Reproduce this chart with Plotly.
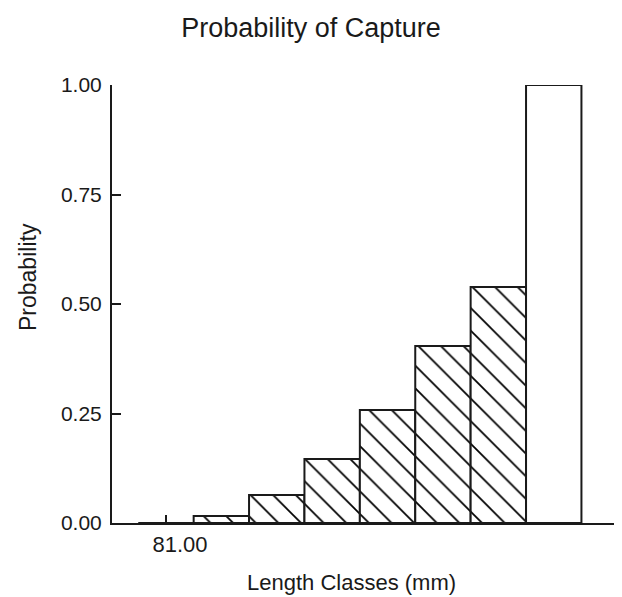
import plotly.graph_objects as go

# Data
length_classes = [81, 86, 91, 96, 101, 106, 111, 116]
probability = [0.0, 0.016, 0.064, 0.146, 0.258, 0.404, 0.539, 1.0]
hatch = ["", "\\", "\\", "\\", "\\", "\\", "\\", ""]
x_tick_vals = [81]
x_tick_text = ["81.00"]
y_tick_vals = [0, 0.25, 0.5, 0.75, 1.0]
y_tick_text = ["0.00", "0.25", "0.50", "0.75", "1.00"]

FONT = "Liberation Sans, Arial, sans-serif"
INK = "#1a1a1a"
OFF = 8  # default page body margin

W, H = 622 - OFF, 597 - OFF
L, R, T, B = 112, 618, 85, 523  # target plot box in screenshot pixels

fig = go.Figure()
fig.add_trace(go.Bar(
    x=length_classes,
    y=probability,
    width=5,
    marker=dict(
        color="white",
        line=dict(color=INK, width=2),
        pattern=dict(shape=hatch, fgcolor="black", fgopacity=1, bgcolor="white",
                     size=16, solidity=0.11),
    ),
    showlegend=False,
))

pw, ph = R - L, B - T

fig.update_layout(
    width=W, height=H,
    margin=dict(l=L - OFF, r=W - (R - OFF), t=T - OFF, b=H - (B - OFF), pad=0),
    paper_bgcolor="white", plot_bgcolor="white",
    font=dict(family=FONT, color=INK),
    title=dict(text="Probability of Capture", x=(311 - OFF) / W, xref="container", xanchor="center",
               y=1 - (28 - OFF) / H, yref="container", yanchor="middle",
               font=dict(size=27, family=FONT, color=INK)),
    xaxis=dict(range=[76.13, 121.8], showline=True, linecolor=INK, linewidth=2,
               showgrid=False, zeroline=False, ticks="inside", ticklen=8, tickwidth=2,
               tickcolor=INK, tickvals=x_tick_vals, ticktext=x_tick_text,
               tickfont=dict(size=22, family=FONT, color=INK),
               ticklabelstandoff=1, ticklabelshift=14),
    yaxis=dict(range=[0, 1], showline=True, linecolor=INK, linewidth=2,
               showgrid=False, zeroline=False, ticks="inside", ticklen=9, tickwidth=2,
               tickcolor=INK, tickvals=y_tick_vals, ticktext=y_tick_text,
               tickfont=dict(size=21, family=FONT, color=INK),
               ticklabelstandoff=4),
    annotations=[
        dict(text="Length Classes (mm)", xref="paper", yref="paper",
             x=(245 - L) / pw, y=-(582 - B) / ph, xanchor="left", yanchor="middle",
             showarrow=False, font=dict(size=22, family=FONT, color=INK)),
        dict(text="Probability", xref="paper", yref="paper", textangle=-90,
             x=(28 - L) / pw, y=(B - 277) / ph, xanchor="center", yanchor="middle",
             showarrow=False, font=dict(size=23, family=FONT, color=INK)),
    ],
)

fig.write_html("out.html")
